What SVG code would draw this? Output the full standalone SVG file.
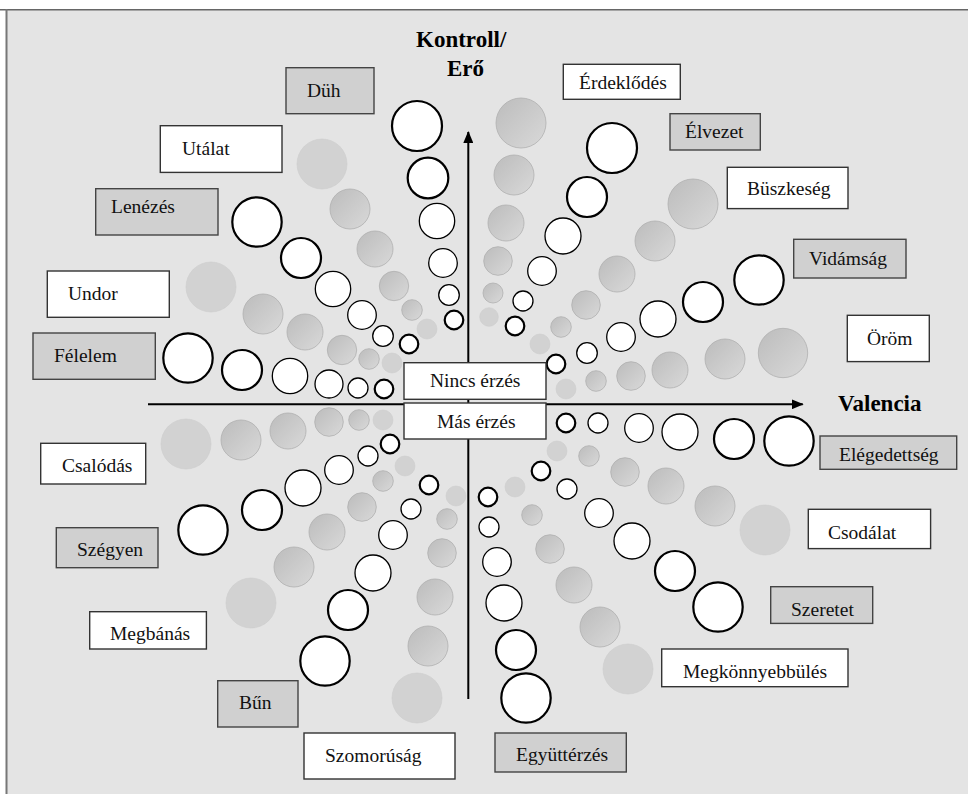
<svg xmlns="http://www.w3.org/2000/svg" width="968" height="794" viewBox="0 0 968 794" font-family="'Liberation Serif', 'DejaVu Serif', serif">
<defs>
<linearGradient id="gg" x1="0" y1="0" x2="1" y2="1">
<stop offset="0" stop-color="#bcbcbc"/>
<stop offset="1" stop-color="#d9d9d9"/>
</linearGradient>
<marker id="ah" viewBox="0 0 12 10" refX="11" refY="5" markerWidth="12" markerHeight="10" markerUnits="userSpaceOnUse" orient="auto">
<path d="M0,0 L12,5 L0,10 Z" fill="#000"/>
</marker>
</defs>
<style>
.w{fill:#fff;stroke:#000;stroke-width:1.3}
.wt{fill:#fff;stroke:#000;stroke-width:2.2}
.g{fill:url(#gg);stroke:#b0b0b0;stroke-width:0.8}
.l{fill:#d2d2d2;stroke:#cccccc;stroke-width:0.6}
.bw{fill:#fff;stroke:#333;stroke-width:1.4}
.bg{fill:#d0d0d0;stroke:#444;stroke-width:1.4}
text{font-family:'Liberation Serif','DejaVu Serif',serif}
.t{font-size:19.5px;fill:#111}
.ax{font-size:23px;font-weight:bold;fill:#000}
.axis{stroke:#000;stroke-width:2;fill:none}
</style>
<rect x="0" y="0" width="968" height="794" fill="#fff"/>
<rect x="7" y="10" width="961" height="784" fill="#e4e4e4"/>
<line x1="0" y1="9.8" x2="968" y2="9.8" stroke="#666" stroke-width="1.6"/>
<line x1="6.5" y1="9" x2="6.5" y2="794" stroke="#777" stroke-width="2"/>

<g id="axes">
<line class="axis" x1="468.3" y1="699" x2="468.3" y2="132" marker-end="url(#ah)"/>
<line class="axis" x1="148" y1="404.3" x2="802.7" y2="404.3" marker-end="url(#ah)"/>
</g>
<g id="axis-labels">
<text class="ax" x="416" y="47">Kontroll/</text>
<text class="ax" x="447" y="76">Erő</text>
<text class="ax" x="838" y="411">Valencia</text>
</g>

<g id="duh">
<rect class="bg" x="286" y="67.7" width="88" height="46"/>
<text class="t" x="307" y="97">Düh</text>
<circle class="wt" cx="417" cy="126" r="25"/>
<circle class="wt" cx="428" cy="178" r="20.3"/>
<circle class="w" cx="437" cy="221" r="17.7"/>
<circle class="w" cx="443" cy="263" r="14.3"/>
<circle class="w" cx="449" cy="295" r="10.3"/>
<circle class="wt" cx="454" cy="320" r="9.3"/>
</g>
<g id="utalat">
<rect class="bw" x="160.3" y="125.7" width="121.7" height="46.7"/>
<text class="t" x="182" y="155">Utálat</text>
<circle class="l" cx="322" cy="164" r="25"/>
<circle class="g" cx="350" cy="209" r="20"/>
<circle class="g" cx="375" cy="249" r="18"/>
<circle class="g" cx="394" cy="286" r="14.7"/>
<circle class="g" cx="412" cy="310" r="10.3"/>
<circle class="l" cx="427" cy="329" r="10"/>
</g>
<g id="lenezes">
<rect class="bg" x="95.7" y="188.7" width="122.3" height="46.3"/>
<text class="t" x="111" y="213">Lenézés</text>
<circle class="wt" cx="257" cy="222" r="24.7"/>
<circle class="wt" cx="301" cy="258" r="20"/>
<circle class="w" cx="333" cy="289" r="17.7"/>
<circle class="w" cx="362" cy="315" r="14.3"/>
<circle class="w" cx="383" cy="336" r="10.3"/>
<circle class="wt" cx="409" cy="344" r="9.3"/>
</g>
<g id="undor">
<rect class="bw" x="47.3" y="271" width="122" height="46.3"/>
<text class="t" x="68" y="300">Undor</text>
<circle class="l" cx="211" cy="287" r="25"/>
<circle class="g" cx="263" cy="314" r="20"/>
<circle class="g" cx="305" cy="332" r="18"/>
<circle class="g" cx="342" cy="350" r="14.7"/>
<circle class="g" cx="369" cy="359" r="10.3"/>
<circle class="l" cx="392" cy="363" r="10"/>
</g>
<g id="felelem">
<rect class="bg" x="33" y="333" width="122.3" height="46.3"/>
<text class="t" x="54" y="362">Félelem</text>
<circle class="wt" cx="188" cy="358" r="24.7"/>
<circle class="wt" cx="242" cy="370" r="20"/>
<circle class="w" cx="290" cy="376" r="17.7"/>
<circle class="w" cx="329" cy="384" r="14"/>
<circle class="w" cx="358" cy="388" r="10"/>
<circle class="wt" cx="384" cy="389" r="9.3"/>
</g>
<g id="csalodas">
<rect class="bw" x="40.7" y="443.3" width="105" height="40.7"/>
<text class="t" x="62" y="472">Csalódás</text>
<circle class="l" cx="186" cy="444" r="25"/>
<circle class="g" cx="241" cy="440" r="20"/>
<circle class="g" cx="288" cy="431" r="18"/>
<circle class="g" cx="329" cy="422" r="14.3"/>
<circle class="g" cx="359" cy="420" r="10.3"/>
<circle class="l" cx="383" cy="420" r="10"/>
</g>
<g id="szegyen">
<rect class="bg" x="56.3" y="527.7" width="101.7" height="40"/>
<text class="t" x="77" y="556">Szégyen</text>
<circle class="wt" cx="203" cy="530" r="24.7"/>
<circle class="wt" cx="262" cy="510" r="20"/>
<circle class="w" cx="303" cy="488" r="18"/>
<circle class="w" cx="339" cy="470" r="14.3"/>
<circle class="w" cx="368" cy="456" r="10"/>
<circle class="wt" cx="390" cy="444" r="9.3"/>
</g>
<g id="megbanas">
<rect class="bw" x="89.7" y="611.7" width="116.7" height="37.3"/>
<text class="t" x="110" y="640">Megbánás</text>
<circle class="l" cx="251" cy="603" r="25"/>
<circle class="g" cx="294" cy="567" r="20"/>
<circle class="g" cx="327" cy="532" r="18"/>
<circle class="g" cx="362" cy="507" r="14.3"/>
<circle class="g" cx="383" cy="481" r="10.3"/>
<circle class="l" cx="405" cy="466" r="10"/>
</g>
<g id="bun">
<rect class="bg" x="217.7" y="680.7" width="80.3" height="46.3"/>
<text class="t" x="239" y="709">Bűn</text>
<circle class="wt" cx="325" cy="661" r="24.7"/>
<circle class="wt" cx="348" cy="610" r="20"/>
<circle class="w" cx="373" cy="573" r="18"/>
<circle class="w" cx="393" cy="535" r="14.3"/>
<circle class="w" cx="411" cy="509" r="10"/>
<circle class="wt" cx="429" cy="485" r="9.3"/>
</g>
<g id="szomorusag">
<rect class="bw" x="304" y="733" width="151" height="46"/>
<text class="t" x="325" y="762">Szomorúság</text>
<circle class="l" cx="417" cy="698" r="25"/>
<circle class="g" cx="428" cy="646" r="20"/>
<circle class="g" cx="435" cy="597" r="18"/>
<circle class="g" cx="442" cy="553" r="14.3"/>
<circle class="g" cx="447" cy="519" r="10.3"/>
<circle class="l" cx="456" cy="496" r="10"/>
</g>
<g id="egyutterzes">
<rect class="bg" x="495" y="733" width="131.3" height="39"/>
<text class="t" x="516" y="761">Együttérzés</text>
<circle class="wt" cx="526" cy="698" r="24.7"/>
<circle class="wt" cx="516" cy="650" r="20"/>
<circle class="w" cx="504" cy="603" r="18"/>
<circle class="w" cx="497" cy="562" r="14.3"/>
<circle class="w" cx="489" cy="527" r="10"/>
<circle class="wt" cx="488" cy="497" r="9.3"/>
</g>
<g id="megkonnyebbules">
<rect class="bw" x="661.7" y="649" width="186.3" height="37.7"/>
<text class="t" x="683" y="678">Megkönnyebbülés</text>
<circle class="l" cx="628" cy="669" r="25"/>
<circle class="g" cx="600" cy="627" r="20"/>
<circle class="g" cx="574" cy="585" r="18"/>
<circle class="g" cx="550" cy="549" r="14.3"/>
<circle class="g" cx="532" cy="515" r="10.3"/>
<circle class="l" cx="515" cy="487" r="10"/>
</g>
<g id="szeretet">
<rect class="bg" x="770.7" y="586.7" width="102" height="36.7"/>
<text class="t" x="791" y="615.5">Szeretet</text>
<circle class="wt" cx="718" cy="607" r="24.7"/>
<circle class="wt" cx="675" cy="571" r="20"/>
<circle class="w" cx="632" cy="541" r="18"/>
<circle class="w" cx="599" cy="513" r="14.3"/>
<circle class="w" cx="567" cy="489" r="10"/>
<circle class="wt" cx="541" cy="471" r="9.3"/>
</g>
<g id="csodalat">
<rect class="bw" x="808.3" y="509.3" width="122.3" height="39.3"/>
<text class="t" x="828" y="539">Csodálat</text>
<circle class="l" cx="765" cy="530" r="25"/>
<circle class="g" cx="715" cy="506" r="20"/>
<circle class="g" cx="666" cy="486" r="18"/>
<circle class="g" cx="625" cy="472" r="14.3"/>
<circle class="g" cx="589" cy="456" r="10.3"/>
<circle class="l" cx="557" cy="451" r="10"/>
</g>
<g id="elegedettseg">
<rect class="bg" x="820" y="436" width="136.7" height="33.3"/>
<text class="t" x="839" y="460.5">Elégedettség</text>
<circle class="wt" cx="789" cy="441" r="24.7"/>
<circle class="wt" cx="734" cy="439" r="20"/>
<circle class="w" cx="680" cy="432" r="18"/>
<circle class="w" cx="639" cy="428" r="14.3"/>
<circle class="w" cx="598" cy="423" r="10"/>
<circle class="wt" cx="566" cy="423" r="9.3"/>
</g>
<g id="orom">
<rect class="bw" x="847.3" y="315.3" width="82" height="46.3"/>
<text class="t" x="867" y="345">Öröm</text>
<circle class="g" cx="783" cy="353" r="24.7"/>
<circle class="g" cx="725" cy="359" r="20"/>
<circle class="g" cx="670" cy="370" r="18"/>
<circle class="g" cx="631" cy="376" r="14.3"/>
<circle class="g" cx="596" cy="381" r="10.3"/>
<circle class="l" cx="566" cy="389" r="10"/>
</g>
<g id="vidamsag">
<rect class="bg" x="793.7" y="239.3" width="112.3" height="38.7"/>
<text class="t" x="809" y="265">Vidámság</text>
<circle class="wt" cx="759" cy="280" r="24.7"/>
<circle class="wt" cx="703" cy="302" r="20"/>
<circle class="w" cx="658" cy="319" r="18"/>
<circle class="w" cx="621" cy="337" r="14.3"/>
<circle class="w" cx="587" cy="353" r="10.3"/>
<circle class="wt" cx="556" cy="364" r="9.3"/>
</g>
<g id="buszkeseg">
<rect class="bw" x="727.3" y="167.3" width="120.7" height="41.3"/>
<text class="t" x="747" y="195">Büszkeség</text>
<circle class="g" cx="693" cy="204" r="25"/>
<circle class="g" cx="655" cy="241" r="20"/>
<circle class="g" cx="617" cy="274" r="18"/>
<circle class="g" cx="586" cy="305" r="14.3"/>
<circle class="g" cx="561" cy="327" r="10.3"/>
<circle class="l" cx="540" cy="344" r="10"/>
</g>
<g id="elvezet">
<rect class="bg" x="670" y="113.7" width="90.3" height="36.3"/>
<text class="t" x="685" y="138">Élvezet</text>
<circle class="wt" cx="612" cy="148" r="25"/>
<circle class="wt" cx="587" cy="197" r="20"/>
<circle class="w" cx="563" cy="236" r="18"/>
<circle class="w" cx="542" cy="271" r="14.3"/>
<circle class="w" cx="523" cy="301" r="10"/>
<circle class="wt" cx="515" cy="326" r="9.3"/>
</g>
<g id="erdeklodes">
<rect class="bw" x="563.3" y="64.3" width="117" height="35"/>
<text class="t" x="579" y="89">Érdeklődés</text>
<circle class="g" cx="521" cy="123" r="25"/>
<circle class="g" cx="514" cy="175" r="20"/>
<circle class="g" cx="506" cy="223" r="18"/>
<circle class="g" cx="498" cy="261" r="14.3"/>
<circle class="g" cx="493" cy="293" r="10"/>
<circle class="l" cx="489" cy="317" r="9.3"/>
</g>

<g id="nincs-erzes">
<rect class="bw" x="404" y="362.7" width="142" height="36.6"/>
<text class="t" x="430" y="387">Nincs érzés</text>
</g>
<g id="mas-erzes">
<rect class="bw" x="404" y="403" width="142" height="36"/>
<text class="t" x="437" y="427.5">Más érzés</text>
</g>
</svg>
